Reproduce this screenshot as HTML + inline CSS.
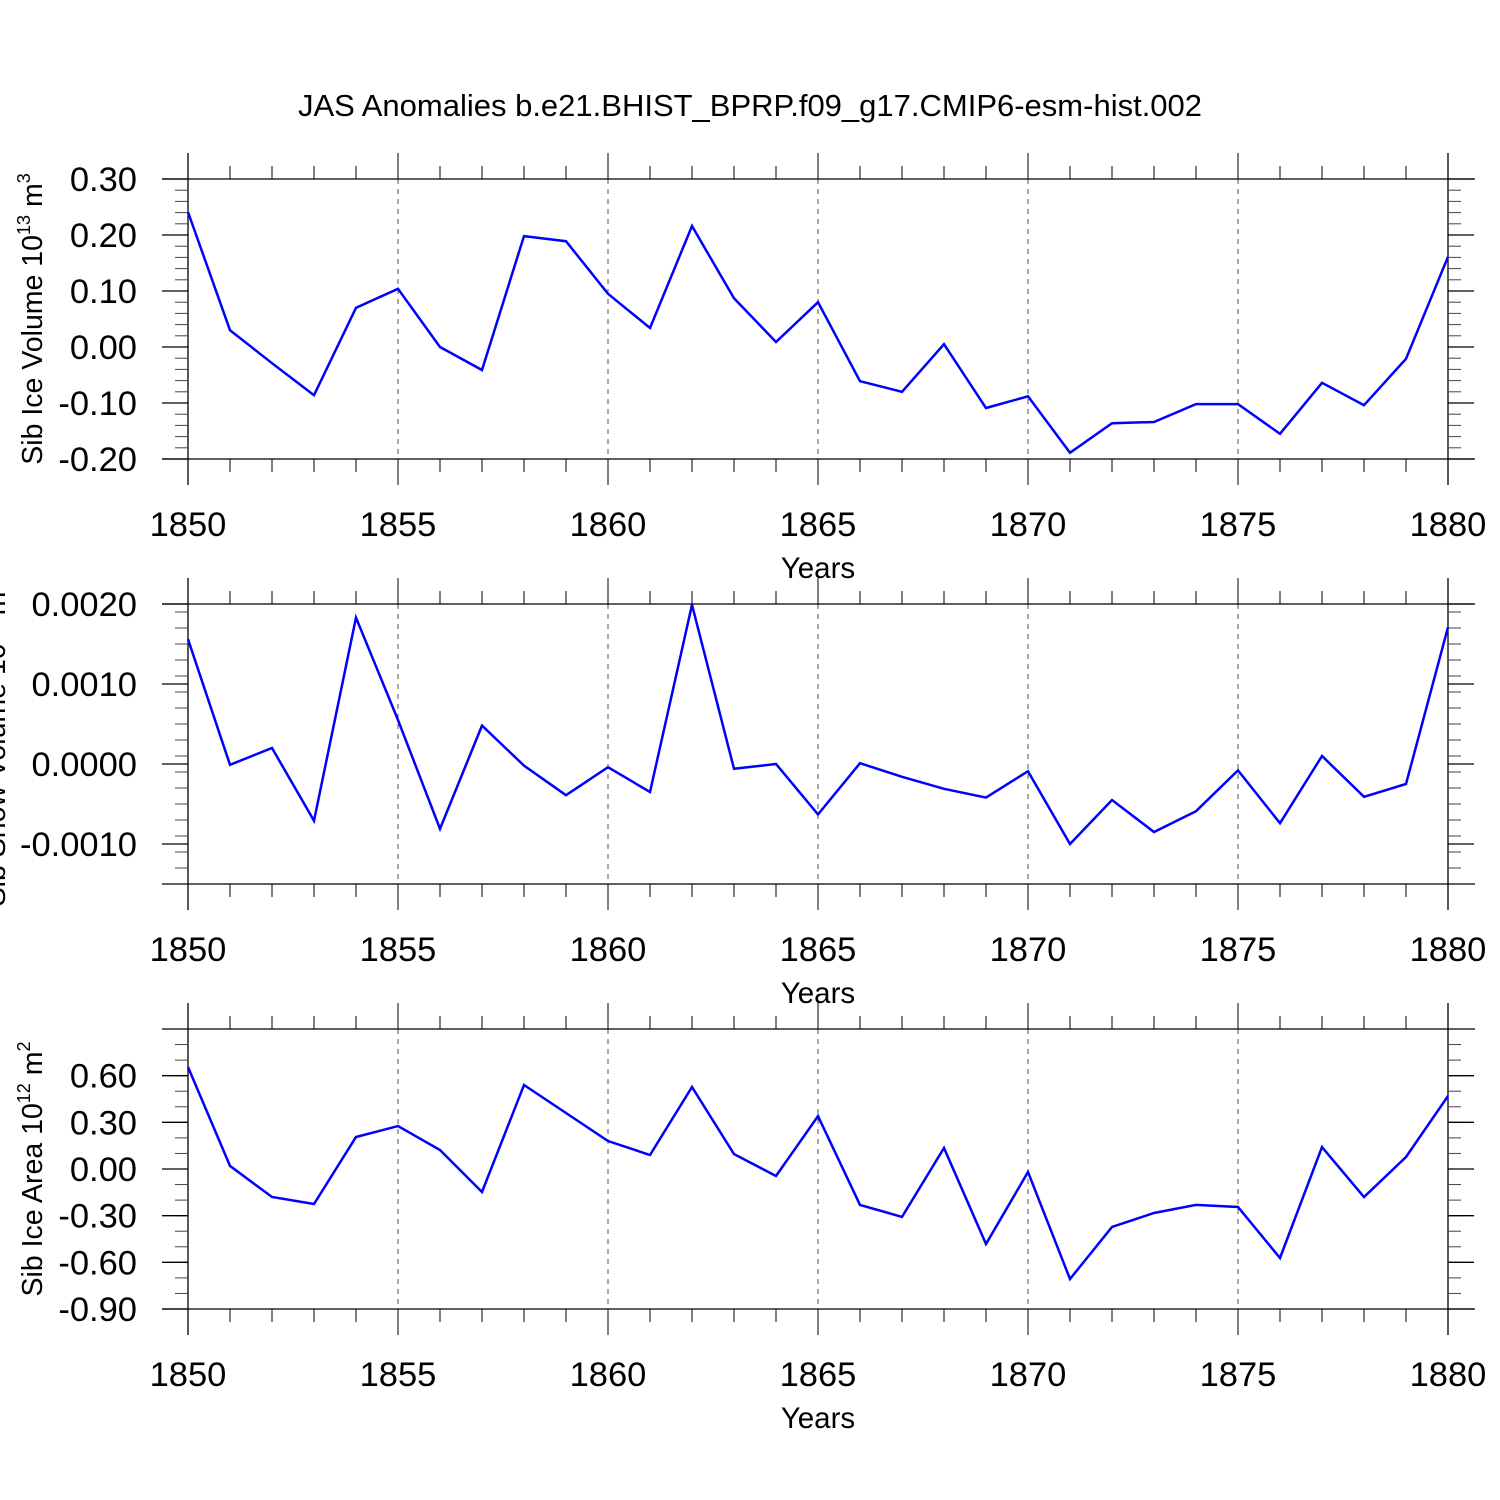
<!DOCTYPE html>
<html><head><meta charset="utf-8"><style>body{margin:0;background:#fff}svg{display:block}text{font-family:"Liberation Sans",sans-serif;fill:#000}</style></head>
<body>
<svg id="chart" width="1500" height="1500" xmlns="http://www.w3.org/2000/svg">
<text x="750" y="116" font-size="31" text-anchor="middle">JAS Anomalies b.e21.BHIST_BPRP.f09_g17.CMIP6-esm-hist.002</text>
</svg>
<script>
const years = [1850,1851,1852,1853,1854,1855,1856,1857,1858,1859,1860,1861,1862,1863,1864,1865,1866,1867,1868,1869,1870,1871,1872,1873,1874,1875,1876,1877,1878,1879,1880];
const iceVolume = [0.241,0.030,-0.029,-0.086,0.070,0.104,0.000,-0.041,0.198,0.189,0.095,0.034,0.216,0.087,0.009,0.080,-0.061,-0.080,0.005,-0.109,-0.088,-0.189,-0.136,-0.134,-0.102,-0.102,-0.155,-0.064,-0.104,-0.021,0.161];
const snowVolume = [0.00156,-0.00001,0.0002,-0.00071,0.00183,0.00055,-0.00081,0.00048,-0.00002,-0.00039,-0.00004,-0.00035,0.00199,-0.00006,0.0,-0.00063,0.00001,-0.00016,-0.00031,-0.00042,-0.00009,-0.001,-0.00045,-0.00085,-0.00059,-0.00008,-0.00074,0.0001,-0.00041,-0.00025,0.00171];
const iceArea = [0.656,0.02,-0.18,-0.225,0.206,0.276,0.122,-0.148,0.54,0.36,0.18,0.09,0.527,0.096,-0.045,0.34,-0.231,-0.308,0.135,-0.482,-0.019,-0.707,-0.373,-0.283,-0.231,-0.244,-0.572,0.141,-0.18,0.077,0.469];
const xTickLabels = ["1850","1855","1860","1865","1870","1875","1880"];
const volTicks = ["0.30","0.20","0.10","0.00","-0.10","-0.20"];
const snowTicks = ["0.0020","0.0010","0.0000","-0.0010"];
const areaTicks = ["0.60","0.30","0.00","-0.30","-0.60","-0.90"];

const svg = document.getElementById('chart');
const NS = 'http://www.w3.org/2000/svg';
const X0 = 188, X1 = 1448;
function xs(yr){ return X0 + (yr - 1850) * (X1 - X0) / 30; }
function mk(tag, attrs, parent){
  const e = document.createElementNS(NS, tag);
  for (const k in attrs) e.setAttribute(k, attrs[k]);
  (parent||svg).appendChild(e); return e;
}
function panel(name, top, vmin, vmax, minorStep, tickLabels, data, title, titleX){
  const bot = top + 280;
  const g = mk('g', {});
  
  
  const ys = v => bot - (v - vmin) / (vmax - vmin) * 280;
  for (let yr = 1855; yr <= 1875; yr += 5) {
    const l = mk('line', {x1: xs(yr), x2: xs(yr), y1: top, y2: bot, stroke: '#555', 'stroke-width': 1, 'stroke-dasharray': '5,5'}, g);
    
    
  }
  mk('line', {x1: 162, x2: 1475, y1: top, y2: top, stroke: '#000', 'stroke-width': 1.3}, g);
  mk('line', {x1: 162, x2: 1475, y1: bot, y2: bot, stroke: '#000', 'stroke-width': 1.3}, g);
  mk('line', {x1: X0, x2: X0, y1: top - 26, y2: bot + 26, stroke: '#000', 'stroke-width': 1.3}, g);
  mk('line', {x1: X1, x2: X1, y1: top - 26, y2: bot + 26, stroke: '#000', 'stroke-width': 1.3}, g);
  for (let yr = 1850; yr <= 1880; yr++) {
    const len = yr % 5 === 0 ? 26 : 13;
    mk('line', {x1: xs(yr), x2: xs(yr), y1: top - len, y2: top, stroke: '#000', 'stroke-width': 1}, g);
    mk('line', {x1: xs(yr), x2: xs(yr), y1: bot, y2: bot + len, stroke: '#000', 'stroke-width': 1}, g);
  }
  xTickLabels.forEach(t => {
    const tx = mk('text', {x: xs(+t), y: bot + 77, 'font-size': 34.5, 'text-anchor': 'middle'}, g);
    
    
    tx.textContent = t;
  });
  const xt = mk('text', {x: 818, y: bot + 119, 'font-size': 29.5, 'text-anchor': 'middle'}, g);
  
  
  xt.textContent = 'Years';
  const n = Math.round((vmax - vmin) / minorStep);
  for (let i = 1; i < n; i++) {
    const y = ys(vmin + i * minorStep);
    mk('line', {x1: X0 - 13, x2: X0, y1: y, y2: y, stroke: '#444', 'stroke-width': 1}, g);
    mk('line', {x1: X1, x2: X1 + 13, y1: y, y2: y, stroke: '#444', 'stroke-width': 1}, g);
  }
  tickLabels.forEach(t => {
    const y = ys(parseFloat(t));
    mk('line', {x1: X0 - 26, x2: X0, y1: y, y2: y, stroke: '#000', 'stroke-width': 1.3}, g);
    mk('line', {x1: X1, x2: X1 + 26, y1: y, y2: y, stroke: '#000', 'stroke-width': 1.3}, g);
    const tx = mk('text', {x: 137, y: y + 12, 'font-size': 34.5, 'text-anchor': 'end'}, g);
    
    
    tx.textContent = t;
  });
  const cy = (top + bot) / 2;
  const yt = mk('text', {x: titleX, y: cy, 'font-size': 28.5, 'text-anchor': 'middle', transform: `rotate(-90 ${titleX} ${cy})`}, g);
  
  
  yt.innerHTML = title;
  const pts = data.map((v, i) => xs(years[i]).toFixed(1) + ',' + ys(v).toFixed(1)).join(' ');
  const pl = mk('polyline', {points: pts, fill: 'none', stroke: '#0000ff', 'stroke-width': 2.5}, g);
  
  
}
panel('ice-volume', 179, -0.2, 0.3, 0.02, volTicks, iceVolume, 'Sib Ice Volume 10<tspan font-size="18" dy="-12">13</tspan><tspan dy="12"> m</tspan><tspan font-size="18" dy="-12">3</tspan>', 42);
panel('snow-volume', 604, -0.0015, 0.002, 0.0002, snowTicks, snowVolume, 'Sib Snow Volume 10<tspan font-size="18" dy="-12">13</tspan><tspan dy="12"> m</tspan><tspan font-size="18" dy="-12">3</tspan>', 5);
panel('ice-area', 1029, -0.9, 0.9, 0.1, areaTicks, iceArea, 'Sib Ice Area 10<tspan font-size="18" dy="-12">12</tspan><tspan dy="12"> m</tspan><tspan font-size="18" dy="-12">2</tspan>', 42);
</script>
</body></html>
